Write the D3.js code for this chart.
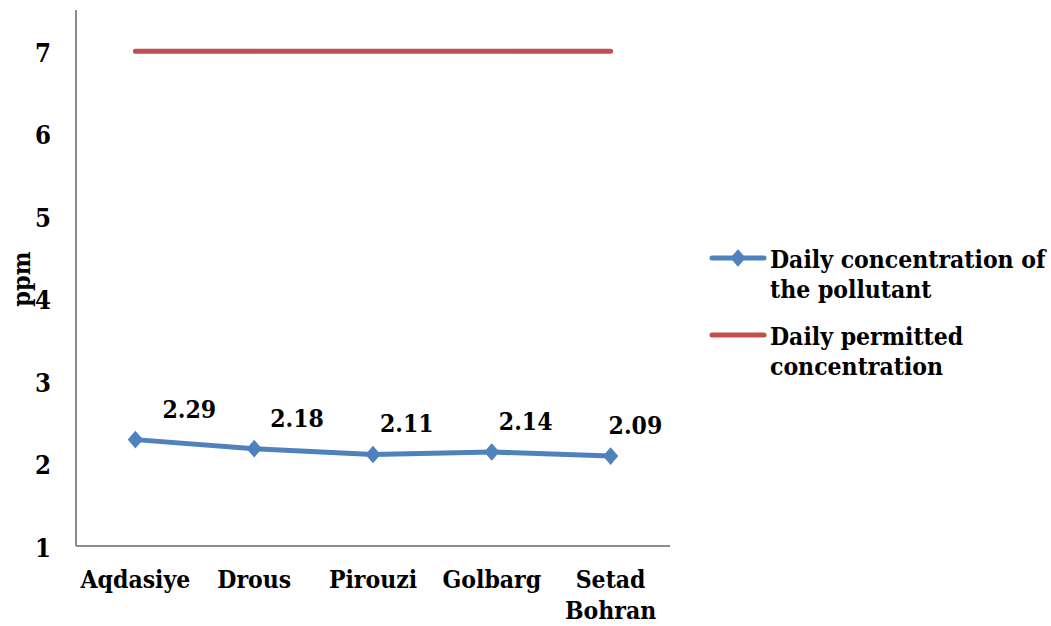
<!DOCTYPE html>
<html>
<head>
<meta charset="utf-8">
<script src="https://cdn.jsdelivr.net/npm/d3@7"></script>
<style>
  html, body { margin: 0; padding: 0; background: #fff; }
  svg { display: block; }
  text { font-family: "DejaVu Serif Condensed", "DejaVu Serif", serif; font-stretch: condensed; font-weight: bold; fill: #000; }
</style>
</head>
<body>
<svg id="chart" width="1051" height="626"></svg>
<script>
// ---- data ----
const categories = ["Aqdasiye", "Drous", "Pirouzi", "Golbarg", "Setad Bohran"];
const concentration = [2.29, 2.18, 2.11, 2.14, 2.09];
const permitted = [7, 7, 7, 7, 7];
const yTicks = [1, 2, 3, 4, 5, 6, 7];
const seriesNames = ["Daily concentration of the pollutant", "Daily permitted concentration"];

// ---- layout ----
const svg = d3.select("#chart");
const plotLeft = 76, plotRight = 670, plotTop = 10, plotBottom = 546;
const labelDx = [27, 16, 7, 7, -2]; // manual label nudges (px, left edge from point)
const blue = "#4F81BD", red = "#C0504D", axisColor = "#8C8C8C";
const fs = "24.5px";

const x = d3.scaleBand().domain(categories).range([plotLeft, plotRight]);
const xc = c => x(c) + x.bandwidth() / 2;
const y = d3.scaleLinear().domain([1, 7.5]).range([plotBottom, plotTop]);

// axes
const yAxis = d3.axisLeft(y).tickValues(yTicks).tickSize(0).tickPadding(25).tickFormat(d3.format("d"));
const gy = svg.append("g").attr("transform", `translate(${plotLeft},0)`).call(yAxis);
gy.select(".domain").attr("stroke", axisColor).attr("stroke-width", 2).attr("d", `M0,${plotTop}V${plotBottom}`);
gy.selectAll("text").style("font-size", "25.5px").attr("dy", "0.4em");

const xAxis = d3.axisBottom(x).tickSize(0).tickPadding(0);
const gx = svg.append("g").attr("transform", `translate(0,${plotBottom})`).call(xAxis);
gx.select(".domain").attr("stroke", axisColor).attr("stroke-width", 2).attr("d", `M${plotLeft},0H${plotRight}`);
gx.selectAll(".tick text").each(function(d) {
  const t = d3.select(this);
  t.text(null).attr("y", 0).attr("dy", null).style("font-size", fs);
  const words = d.split(" ");
  words.forEach((w, i) => t.append("tspan").attr("x", 0).attr("y", 42 + i * 31).text(w));
});

// y title
svg.append("text").attr("transform", "translate(30,279) rotate(-90)")
  .attr("text-anchor", "middle").style("font-size", "25px").text("ppm");

// permitted line
const line = d3.line().x((d, i) => xc(categories[i])).y(d => y(d));
svg.append("path").datum(permitted).attr("d", line)
  .attr("fill", "none").attr("stroke", red).attr("stroke-width", 5).attr("stroke-linecap", "round");

// concentration line
svg.append("path").datum(concentration).attr("d", line)
  .attr("fill", "none").attr("stroke", blue).attr("stroke-width", 5).attr("stroke-linejoin", "round");

const diamond = d3.symbol().type(d3.symbolDiamond2).size(150);
svg.selectAll(".mk").data(concentration).enter().append("path")
  .attr("d", diamond)
  .attr("transform", (d, i) => `translate(${xc(categories[i])},${y(d)}) scale(1,1.15)`)
  .attr("fill", blue);

svg.selectAll(".lbl").data(concentration).enter().append("text")
  .attr("x", (d, i) => xc(categories[i]) + labelDx[i])
  .attr("y", (d, i) => y(d) - 22)
  .style("font-size", fs)
  .text(d => d.toFixed(2));

// legend
const legend = [
  { name: seriesNames[0], color: blue, marker: true, lines: ["Daily concentration of", "the pollutant"], y: 258 },
  { name: seriesNames[1], color: red, marker: false, lines: ["Daily permitted", "concentration"], y: 335 }
];
legend.forEach(l => {
  svg.append("line").attr("x1", 712).attr("x2", 764).attr("y1", l.y).attr("y2", l.y)
    .attr("stroke", l.color).attr("stroke-width", 5).attr("stroke-linecap", "round");
  if (l.marker) {
    svg.append("path").attr("d", diamond).attr("transform", `translate(738,${l.y}) scale(1,1.15)`).attr("fill", l.color);
  }
  const t = svg.append("text").style("font-size", fs);
  l.lines.forEach((s, i) => t.append("tspan").attr("x", 770).attr("y", l.y + 10 + i * 30).text(s));
});
</script>
</body>
</html>
